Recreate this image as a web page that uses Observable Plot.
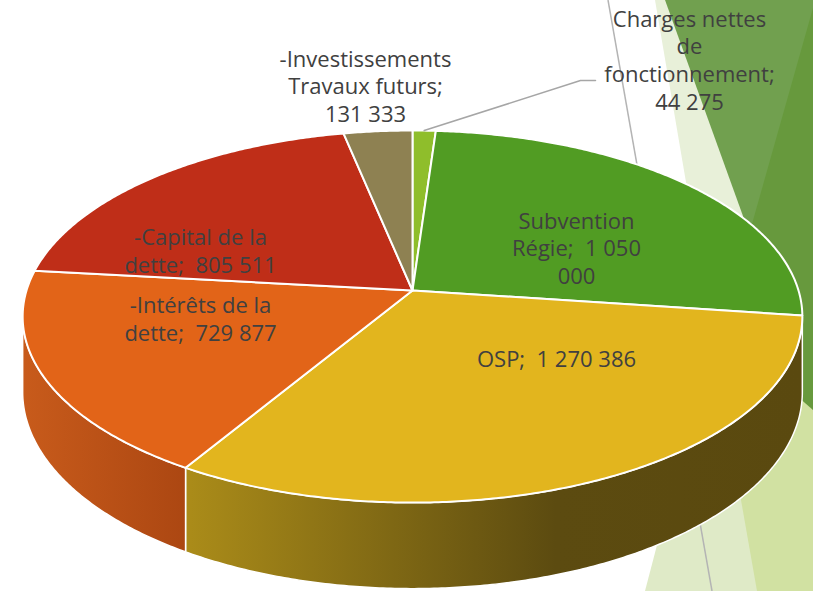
<!DOCTYPE html>
<html><head><meta charset="utf-8">
<script src="https://cdn.jsdelivr.net/npm/d3@7"></script>
<script src="https://cdn.jsdelivr.net/npm/@observablehq/plot@0.6"></script>
<style>
html,body{margin:0;padding:0;background:#fff;}
#wrap{position:relative;width:813px;height:591px;overflow:hidden;}
#bg{position:absolute;left:0;top:0;}
#chart{position:absolute;left:0;top:0;}
</style></head><body>
<div id="wrap">
<svg id="bg" width="813" height="591">
  <polygon points="655,0 813,0 813,400 712,335" fill="#e8f0d9"/>
  <polygon points="712,335 645,591 813,591 813,400" fill="#dfeac7"/>
  <polygon points="712,335 757,591 813,591 813,405" fill="#d1e1a2"/>
  <polygon points="665,0 813,0 813,410" fill="#71a04f"/>
  <polygon points="813,8 722,330 813,410" fill="#67993d"/>
  <line x1="608" y1="0" x2="712" y2="591" stroke="#b4b4b4" stroke-width="1.5"/>
</svg>
<div id="chart"></div>
</div>
<script>
// ---- data ----
const categories = ["Charges nettes de fonctionnement", "Subvention Régie", "OSP", "-Intérêts de la dette", "-Capital de la dette", "-Investissements Travaux futurs"];
const values = [44275, 1050000, 1270386, 729877, 805511, 131333];
const labels = ["Charges nettes\nde\nfonctionnement;\n44 275", "Subvention\nRégie;  1 050\n000", "OSP;  1 270 386", "-Intérêts de la\ndette;  729 877", "-Capital de la\ndette;  805 511", "-Investissements\nTravaux futurs;\n131 333"];
const colors = ["#8fbe2b", "#519c23", "#e2b51e", "#e26418", "#bf2e18", "#8e8152"];

// ---- layout ----
const W = 813, H = 591;
const cx = 412, cy = 290, A = 386, B = 182.4, k = 0.14, thick = 74 / B;
const labelPx = [[689, 59], [576, 247], [556, 358], [200, 318], [200, 250], [365, 85]];
const leaderPx = [[580, 80], [595, 80]];

const total = d3.sum(values);
function proj(deg, r) {
  const a = deg * Math.PI / 180;
  const u = r * Math.sin(a), v = -r * Math.cos(a), w = 1 - k * v;
  return {X: u / w, Y: v / w, w};
}
let cum = 0;
const slices = categories.map((c, i) => {
  const a0 = cum / total * 360; cum += values[i]; const a1 = cum / total * 360;
  return {c, i, a0, a1};
});

const topPts = [];
slices.forEach(s => {
  topPts.push({c: s.c, X: 0, Y: 0});
  const n = Math.max(2, Math.ceil((s.a1 - s.a0) / 0.5));
  for (let j = 0; j <= n; j++) {
    const p = proj(s.a0 + (s.a1 - s.a0) * j / n, 1);
    topPts.push({c: s.c, X: p.X, Y: p.Y});
  }
});

const visLo = Math.acos(-k) * 180 / Math.PI, visHi = 360 - visLo;
const walls = [];
slices.forEach(s => {
  const lo = Math.max(s.a0, visLo), hi = Math.min(s.a1, visHi);
  if (hi <= lo) return;
  const n = Math.max(2, Math.ceil((hi - lo) / 0.5));
  const top = [], bot = [];
  for (let j = 0; j <= n; j++) {
    const p = proj(lo + (hi - lo) * j / n, 1);
    top.push({c: s.c, X: p.X, Y: p.Y});
    bot.push({c: s.c, X: p.X, Y: p.Y + thick / p.w});
  }
  walls.push({c: s.c, i: s.i, pts: top.concat(bot.reverse())});
});

const gradStops = {
  2: [[0, "#ab8c19"], [0.6, "#5c4b10"], [1, "#5a490f"]],
  3: [[0, "#c85b1b"], [1, "#ac4712"]]
};

const toX = px => (px - cx) / A, toY = py => (py - cy) / B;
const labelData = categories.map((c, i) => ({c, t: labels[i], X: toX(labelPx[i][0]), Y: toY(labelPx[i][1])}));
const mid0 = (slices[0].a0 + slices[0].a1) / 2;
const lp = proj(mid0, 1);
const leader = [{X: lp.X, Y: lp.Y}].concat(leaderPx.map(([x, y]) => ({X: toX(x), Y: toY(y)})));

const defsMark = () => {
  const defs = d3.create("svg:defs");
  Object.entries(gradStops).forEach(([i, stops]) => {
    const g = defs.append("linearGradient").attr("id", "wall" + i).attr("x1", 0).attr("x2", 1).attr("y1", 0).attr("y2", 0);
    stops.forEach(([o, col]) => g.append("stop").attr("offset", o).attr("stop-color", col));
  });
  return defs.node();
};

const chart = Plot.plot({
  width: W, height: H, margin: 0,
  style: {background: "transparent", overflow: "visible"},
  x: {domain: [-cx / A, (W - cx) / A], range: [0, W], axis: null},
  y: {domain: [-cy / B, (H - cy) / B], range: [0, H], axis: null},
  color: {domain: categories, range: colors},
  marks: [
    defsMark,
    ...walls.map(w => Plot.line(w.pts, {x: "X", y: "Y", curve: "linear-closed", fill: gradStops[w.i] ? `url(#wall${w.i})` : colors[w.i], stroke: "#ffffff", strokeWidth: 1.5, strokeLinejoin: "round"})),
    Plot.line(topPts, {x: "X", y: "Y", z: "c", fill: "c", curve: "linear-closed", stroke: "#ffffff", strokeWidth: 2, strokeLinejoin: "round"}),
    Plot.line(leader, {x: "X", y: "Y", stroke: "#a6a6a6", strokeWidth: 1.5}),
    Plot.text(labelData, {x: "X", y: "Y", text: "t", fill: "#404040", fontSize: 22, fontFamily: "'Open Sans', sans-serif", lineHeight: 1.27, textAnchor: "middle", lineAnchor: "middle"})
  ]
});
document.getElementById("chart").appendChild(chart);
</script>
</body></html>
